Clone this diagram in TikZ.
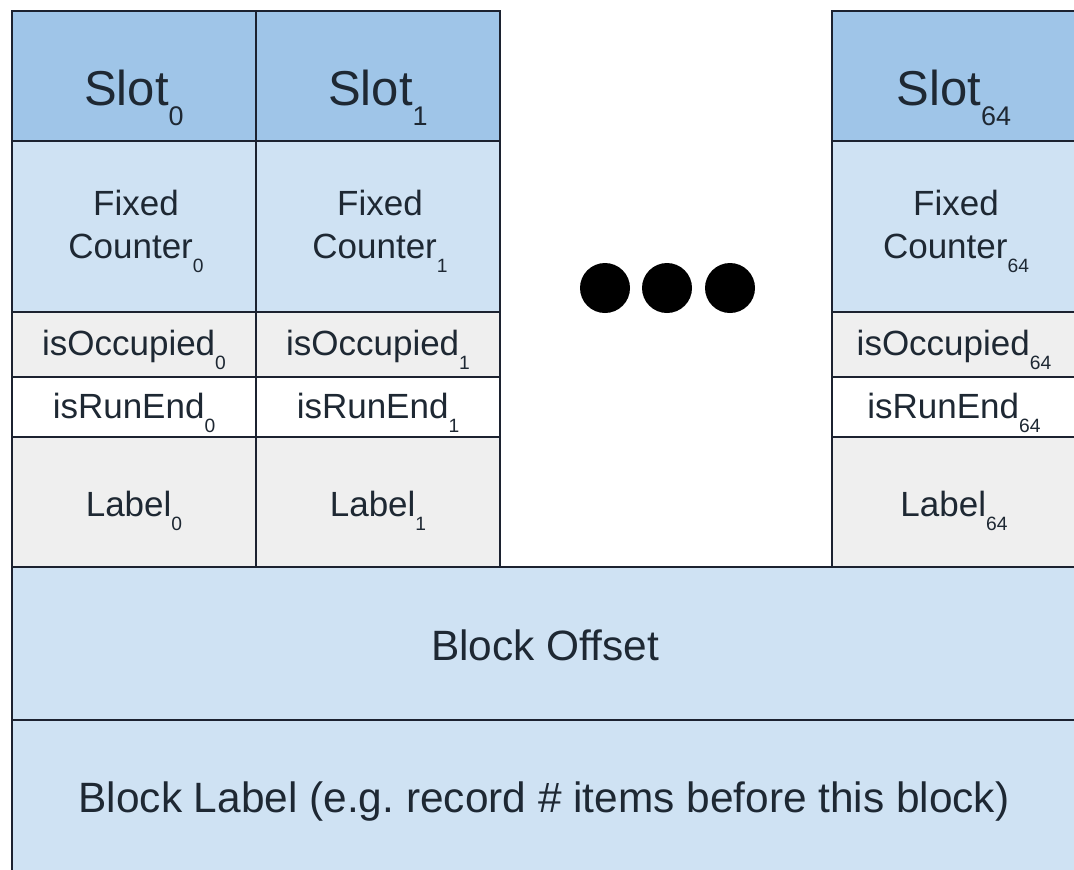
\documentclass[tikz,border=0pt]{standalone}
\usepackage{fontspec}
\setmainfont{Liberation Sans}
\usepackage{tikz}
\definecolor{slotblue}{HTML}{9FC5E8}
\definecolor{paleblue}{HTML}{CFE2F3}
\definecolor{palegray}{HTML}{EFEFEF}
\definecolor{gridline}{HTML}{1C2230}
\definecolor{ink}{HTML}{1E2833}
\newcommand{\idx}[1]{\smash{\raisebox{-0.42em}{\scalebox{0.55}{#1}}}}
\frenchspacing

\begin{document}
\begin{tikzpicture}[x=0.5pt,y=-0.5pt,
    cell/.style={draw=gridline,line width=1pt,inner sep=0pt},
    slotcell/.style={cell,fill=slotblue,minimum height=65pt},
    fixcell/.style={cell,fill=paleblue,minimum height=85.5pt},
    occcell/.style={cell,fill=palegray,minimum height=32.5pt},
    runcell/.style={cell,fill=white,minimum height=30pt},
    labcell/.style={cell,fill=palegray,minimum height=65pt},
    txt/.style={anchor=base,text=ink,inner sep=0pt,align=center,font=\fontsize{17.5}{21.5}\selectfont},
    bigtxt/.style={txt,font=\fontsize{24.5}{28}\selectfont},
    dot/.style={circle,fill=black,inner sep=0pt,minimum size=25pt}]
    \useasboundingbox (0,0) rectangle (1074,869);
    \clip (0,0) rectangle (1074,869);
    \fill[white] (0,0) rectangle (1074,869);

    % slot 0
    \node[slotcell,minimum width=122pt] (slotA) at (134,76) {};
    \node[fixcell,minimum width=122pt] (fixA) at (134,226.5) {};
    \node[occcell,minimum width=122pt] (occA) at (134,344.5) {};
    \node[runcell,minimum width=122pt] (runA) at (134,407) {};
    \node[labcell,minimum width=122pt] (labA) at (134,502) {};
    \node[bigtxt] (slotAtxt) at (134,105) {Slot\idx{0}};
    \node[txt] (fixAtxt) at (136,258) {Fixed\\Counter\idx{0}};
    \node[txt] (occAtxt) at (134,355) {isOccupied\idx{0}};
    \node[txt] (runAtxt) at (134,418) {isRunEnd\idx{0}};
    \node[txt] (labAtxt) at (134,516) {Label\idx{0}};

    % slot 1
    \node[slotcell,minimum width=122pt] (slotB) at (378,76) {};
    \node[fixcell,minimum width=122pt] (fixB) at (378,226.5) {};
    \node[occcell,minimum width=122pt] (occB) at (378,344.5) {};
    \node[runcell,minimum width=122pt] (runB) at (378,407) {};
    \node[labcell,minimum width=122pt] (labB) at (378,502) {};
    \node[bigtxt] (slotBtxt) at (378,105) {Slot\idx{1}};
    \node[txt] (fixBtxt) at (380,258) {Fixed\\Counter\idx{1}};
    \node[txt] (occBtxt) at (378,355) {isOccupied\idx{1}};
    \node[txt] (runBtxt) at (378,418) {isRunEnd\idx{1}};
    \node[txt] (labBtxt) at (378,516) {Label\idx{1}};

    % slot 64, cut off at the right edge
    \node[slotcell,minimum width=129pt] (slotC) at (961,76) {};
    \node[fixcell,minimum width=129pt] (fixC) at (961,226.5) {};
    \node[occcell,minimum width=129pt] (occC) at (961,344.5) {};
    \node[runcell,minimum width=129pt] (runC) at (961,407) {};
    \node[labcell,minimum width=129pt] (labC) at (961,502) {};
    \node[bigtxt] (slotCtxt) at (954,105) {Slot\idx{64}};
    \node[txt] (fixCtxt) at (956,258) {Fixed\\Counter\idx{64}};
    \node[txt] (occCtxt) at (954,355) {isOccupied\idx{64}};
    \node[txt] (runCtxt) at (954,418) {isRunEnd\idx{64}};
    \node[txt] (labCtxt) at (954,516) {Label\idx{64}};

    % the gap
    \node[dot] (dotA) at (605,288) {};
    \node[dot] (dotB) at (667,288) {};
    \node[dot] (dotC) at (730,288) {};

    % block-wide fields
    \node[cell,fill=paleblue,minimum width=539pt,minimum height=76.5pt] (offset) at (551,643.5) {};
    \node[cell,fill=paleblue,minimum width=539pt,minimum height=77pt] (blocklab) at (551,797) {};
    \node[txt,font=\fontsize{21.2}{25}\selectfont] (offsettxt) at (545,660) {Block Offset};
    \node[txt,font=\fontsize{21.2}{25}\selectfont] (blocklabtxt) at (544,812) {Block Label (e.g. record \# items before this block)};
\end{tikzpicture}
\end{document}
